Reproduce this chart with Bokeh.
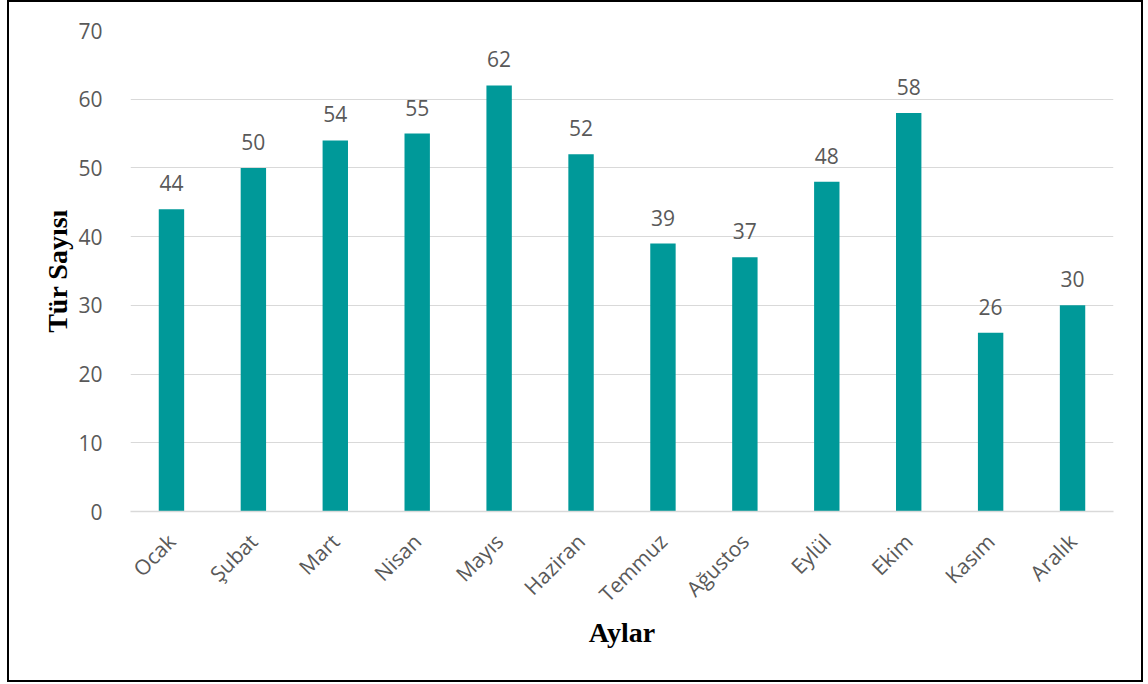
import math
from bokeh.plotting import figure
from bokeh.models import ColumnDataSource, LabelSet
from bokeh.core.properties import value
from bokeh.embed import file_html
from bokeh.resources import INLINE

months = ["Ocak", "Şubat", "Mart", "Nisan", "Mayıs", "Haziran",
          "Temmuz", "Ağustos", "Eylül", "Ekim", "Kasım", "Aralık"]
counts = [44, 50, 54, 55, 62, 52, 39, 37, 48, 58, 26, 30]
y_ticks = [0, 10, 20, 30, 40, 50, 60, 70]

BAR = "#009999"
TXT = "#595959"

src = ColumnDataSource(dict(m=months, c=counts, lbl=[str(v) for v in counts]))

p = figure(x_range=months, y_range=(0, 70), width=1136, height=682,
           output_backend="svg", toolbar_location=None,
           min_border_left=121, min_border_right=32,
           min_border_top=28, min_border_bottom=173)
p.styles = {"border": "2px solid black", "margin-left": "7px"}
p.outline_line_color = None

p.vbar(x="m", top="c", width=0.31, source=src, color=BAR, line_color=None)

labels = LabelSet(x="m", y="c", text="lbl", source=src, text_align="center",
                  text_baseline="alphabetic", y_offset=18,
                  text_font=value("Open Sans"), text_font_size="21px", text_color=TXT)
p.add_layout(labels)

p.yaxis.ticker = y_ticks
p.yaxis.axis_line_color = None
p.yaxis.major_tick_line_color = None
p.yaxis.minor_tick_line_color = None
p.yaxis.major_label_standoff = 22
p.yaxis.major_label_text_font = "Open Sans"
p.yaxis.major_label_text_font_size = "21px"
p.yaxis.major_label_text_color = TXT
p.yaxis.axis_label = "Tür Sayısı"
p.yaxis.axis_label_text_font = "Liberation Serif"
p.yaxis.axis_label_text_font_style = "bold"
p.yaxis.axis_label_text_font_size = "28px"
p.yaxis.axis_label_text_color = "black"
p.yaxis.axis_label_standoff = 2

p.xaxis.axis_line_color = "#d9d9d9"
p.xaxis.axis_line_width = 1.5
p.xaxis.major_tick_line_color = None
p.xaxis.minor_tick_line_color = None
p.xaxis.major_label_orientation = math.pi / 4
p.xaxis.major_label_standoff = 20
p.xaxis.major_label_text_font = "Open Sans"
p.xaxis.major_label_text_font_size = "21px"
p.xaxis.major_label_text_color = TXT
p.xaxis.axis_label = "Aylar"
p.xaxis.axis_label_text_font = "Liberation Serif"
p.xaxis.axis_label_text_font_style = "bold"
p.xaxis.axis_label_text_font_size = "28px"
p.xaxis.axis_label_text_color = "black"
p.xaxis.axis_label_standoff = -3

p.xgrid.grid_line_color = None
p.ygrid.grid_line_color = "#d9d9d9"
p.ygrid.grid_line_width = 1

open("out.html", "w").write(file_html(p, INLINE))
